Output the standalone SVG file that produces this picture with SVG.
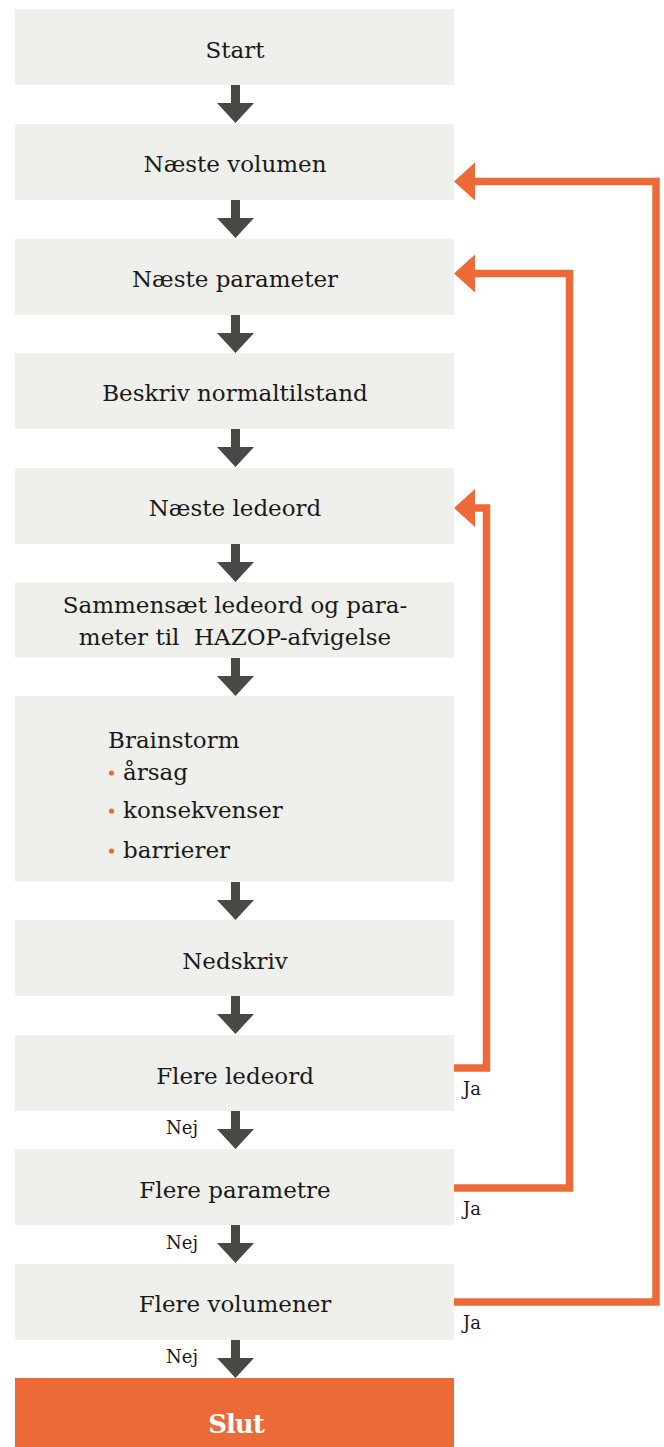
<svg xmlns="http://www.w3.org/2000/svg" width="664" height="1447" viewBox="0 0 664 1447">
<style>
.box{fill:#EFEFEB}
.t{font-family:"DejaVu Serif","Liberation Serif",serif;font-size:23px;fill:#1a1a1a;text-anchor:middle}
.tl{font-family:"DejaVu Serif","Liberation Serif",serif;font-size:23px;fill:#1a1a1a}
.s{font-family:"DejaVu Serif","Liberation Serif",serif;font-size:18px;fill:#1a1a1a}
.slut{font-family:"DejaVu Serif","Liberation Serif",serif;font-size:26px;font-weight:bold;fill:#fff;text-anchor:middle;letter-spacing:-1px}
.arr{fill:#4A4844}
.loop{fill:none;stroke:#EC6A37;stroke-width:7.5}
.head{fill:#EC6A37}
.dot{fill:#EC6A37}
</style>
<defs>
<path id="down" class="arr" d="M231,0 h9 v18 h14 l-18.5,20 l-18.5,-20 h14 z"/>
</defs>
<g id="n-start"><rect class="box" x="15" y="9" width="439" height="76"/><text class="t" x="235" y="58">Start</text></g>
<g id="n-volumen"><rect class="box" x="15" y="124" width="439" height="76"/><text class="t" x="235" y="172">Næste volumen</text></g>
<g id="n-parameter"><rect class="box" x="15" y="239" width="439" height="76"/><text class="t" x="235" y="287">Næste parameter</text></g>
<g id="n-beskriv"><rect class="box" x="15" y="353" width="439" height="76"/><text class="t" x="235" y="401">Beskriv normaltilstand</text></g>
<g id="n-ledeord"><rect class="box" x="15" y="468" width="439" height="76"/><text class="t" x="235" y="516">Næste ledeord</text></g>
<g id="n-sammensaet"><rect class="box" x="15" y="582" width="439" height="76"/><text class="t" x="235" y="613">Sammensæt ledeord og para-</text><text class="t" x="235" y="645" xml:space="preserve">meter til  HAZOP-afvigelse</text></g>
<g id="n-brainstorm"><rect class="box" x="15" y="696" width="439" height="186"/>
<text class="tl" x="108" y="748">Brainstorm</text>
<circle class="dot" cx="111.5" cy="773" r="2.6"/><text class="tl" x="123" y="780">årsag</text>
<circle class="dot" cx="111.5" cy="811" r="2.6"/><text class="tl" x="123" y="818">konsekvenser</text>
<circle class="dot" cx="111.5" cy="851" r="2.6"/><text class="tl" x="123" y="858">barrierer</text>
</g>
<g id="n-nedskriv"><rect class="box" x="15" y="920" width="439" height="76"/><text class="t" x="235" y="969">Nedskriv</text></g>
<g id="n-flere-ledeord"><rect class="box" x="15" y="1035" width="439" height="76"/><text class="t" x="235" y="1084">Flere ledeord</text></g>
<g id="n-flere-parametre"><rect class="box" x="15" y="1149" width="439" height="76"/><text class="t" x="235" y="1198">Flere parametre</text></g>
<g id="n-flere-volumener"><rect class="box" x="15" y="1264" width="439" height="76"/><text class="t" x="235" y="1312">Flere volumener</text></g>
<g id="n-slut"><rect x="15" y="1378" width="439" height="69" fill="#EC6A37"/><text class="slut" x="236" y="1433">Slut</text></g>
<g id="connectors">
<use href="#down" y="85"/>
<use href="#down" y="200"/>
<use href="#down" y="315"/>
<use href="#down" y="429"/>
<use href="#down" y="544"/>
<use href="#down" y="658"/>
<use href="#down" y="882"/>
<use href="#down" y="996"/>
<use href="#down" y="1111"/>
<use href="#down" y="1225"/>
<use href="#down" y="1340"/>
<polyline class="loop" points="454,1068 486.5,1068 486.5,508 470,508"/>
<polygon class="head" points="454,508 475,489 475,527"/>
<polyline class="loop" points="454,1188 569.5,1188 569.5,273.5 470,273.5"/>
<polygon class="head" points="454,273.5 475,254.5 475,292.5"/>
<polyline class="loop" points="454,1302 656,1302 656,181.5 470,181.5"/>
<polygon class="head" points="454,181.5 475,162.5 475,200.5"/>
<text class="s" x="463" y="1095">Ja</text>
<text class="s" x="463" y="1215">Ja</text>
<text class="s" x="463" y="1329">Ja</text>
<text class="s" x="166" y="1134">Nej</text>
<text class="s" x="166" y="1249">Nej</text>
<text class="s" x="166" y="1363">Nej</text>
</g>
</svg>
